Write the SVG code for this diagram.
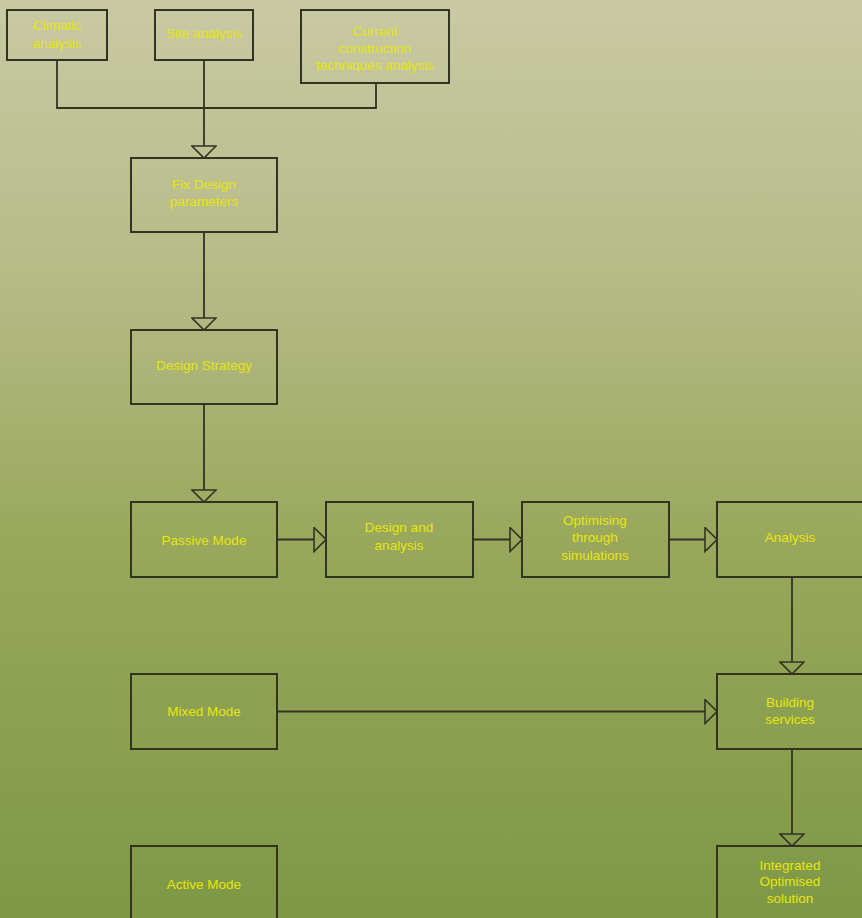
<svg xmlns="http://www.w3.org/2000/svg" width="862" height="918" viewBox="0 0 862 918">
<defs>
<linearGradient id="bg" x1="0" y1="0" x2="0" y2="1">
<stop offset="0" stop-color="#c9c9a4"/>
<stop offset="0.3" stop-color="#b6bb86"/>
<stop offset="0.6" stop-color="#98a75b"/>
<stop offset="1" stop-color="#7e9846"/>
</linearGradient>
<marker id="arr" markerUnits="userSpaceOnUse" markerWidth="14" markerHeight="26" viewBox="-1 -1 14 26" refX="0" refY="12" orient="auto">
<path d="M0,0 L12,12 L0,24 Z" fill="none" stroke="#333322" stroke-width="1.6"/>
</marker>
<style>
.box{fill:none;stroke:#333322;stroke-width:2}
.t{font-family:"Liberation Sans",Arial,sans-serif;font-size:13.5px;fill:#e6e60e;text-anchor:middle}
.c{fill:none;stroke:#333322;stroke-width:1.8}
</style>
</defs>
<rect x="0" y="0" width="862" height="918" fill="url(#bg)"/>
<g id="connectors">
<path class="c" d="M57,60 V108 H376 V83"/>
<path class="c" d="M204,60 V146" marker-end="url(#arr)"/>
<path class="c" d="M204,232 V318" marker-end="url(#arr)"/>
<path class="c" d="M204,404 V490" marker-end="url(#arr)"/>
<path class="c" d="M277,539.5 H314" marker-end="url(#arr)"/>
<path class="c" d="M473,539.5 H510" marker-end="url(#arr)"/>
<path class="c" d="M669,539.5 H705" marker-end="url(#arr)"/>
<path class="c" d="M792,577 V662" marker-end="url(#arr)"/>
<path class="c" d="M277,711.5 H705" marker-end="url(#arr)"/>
<path class="c" d="M792,749 V834" marker-end="url(#arr)"/>
</g>
<g id="climatic"><rect class="box" x="7" y="10" width="100" height="50"/><text class="t" x="57" y="30">Climatic</text><text class="t" x="57" y="48">analysis</text></g>
<g id="site"><rect class="box" x="155" y="10" width="98" height="50"/><text class="t" x="204" y="38">Site analysis</text></g>
<g id="current"><rect class="box" x="301" y="10" width="148" height="73"/><text class="t" x="375" y="36">Current</text><text class="t" x="375" y="53">construction</text><text class="t" x="375" y="70">techniques analysis</text></g>
<g id="fixdesign"><rect class="box" x="131" y="158" width="146" height="74"/><text class="t" x="204" y="189">Fix Design</text><text class="t" x="204" y="206">parameters</text></g>
<g id="strategy"><rect class="box" x="131" y="330" width="146" height="74"/><text class="t" x="204" y="370">Design Strategy</text></g>
<g id="passive"><rect class="box" x="131" y="502" width="146" height="75"/><text class="t" x="204" y="545">Passive Mode</text></g>
<g id="designanalysis"><rect class="box" x="326" y="502" width="147" height="75"/><text class="t" x="399" y="532">Design and</text><text class="t" x="399" y="550">analysis</text></g>
<g id="optimising"><rect class="box" x="522" y="502" width="147" height="75"/><text class="t" x="595" y="525">Optimising</text><text class="t" x="595" y="542">through</text><text class="t" x="595" y="560">simulations</text></g>
<g id="analysis"><rect class="box" x="717" y="502" width="150" height="75"/><text class="t" x="790" y="542">Analysis</text></g>
<g id="mixed"><rect class="box" x="131" y="674" width="146" height="75"/><text class="t" x="204" y="716">Mixed Mode</text></g>
<g id="building"><rect class="box" x="717" y="674" width="150" height="75"/><text class="t" x="790" y="707">Building</text><text class="t" x="790" y="724">services</text></g>
<g id="active"><rect class="box" x="131" y="846" width="146" height="80"/><text class="t" x="204" y="889">Active Mode</text></g>
<g id="integrated"><rect class="box" x="717" y="846" width="150" height="80"/><text class="t" x="790" y="870">Integrated</text><text class="t" x="790" y="886">Optimised</text><text class="t" x="790" y="903">solution</text></g>
</svg>
